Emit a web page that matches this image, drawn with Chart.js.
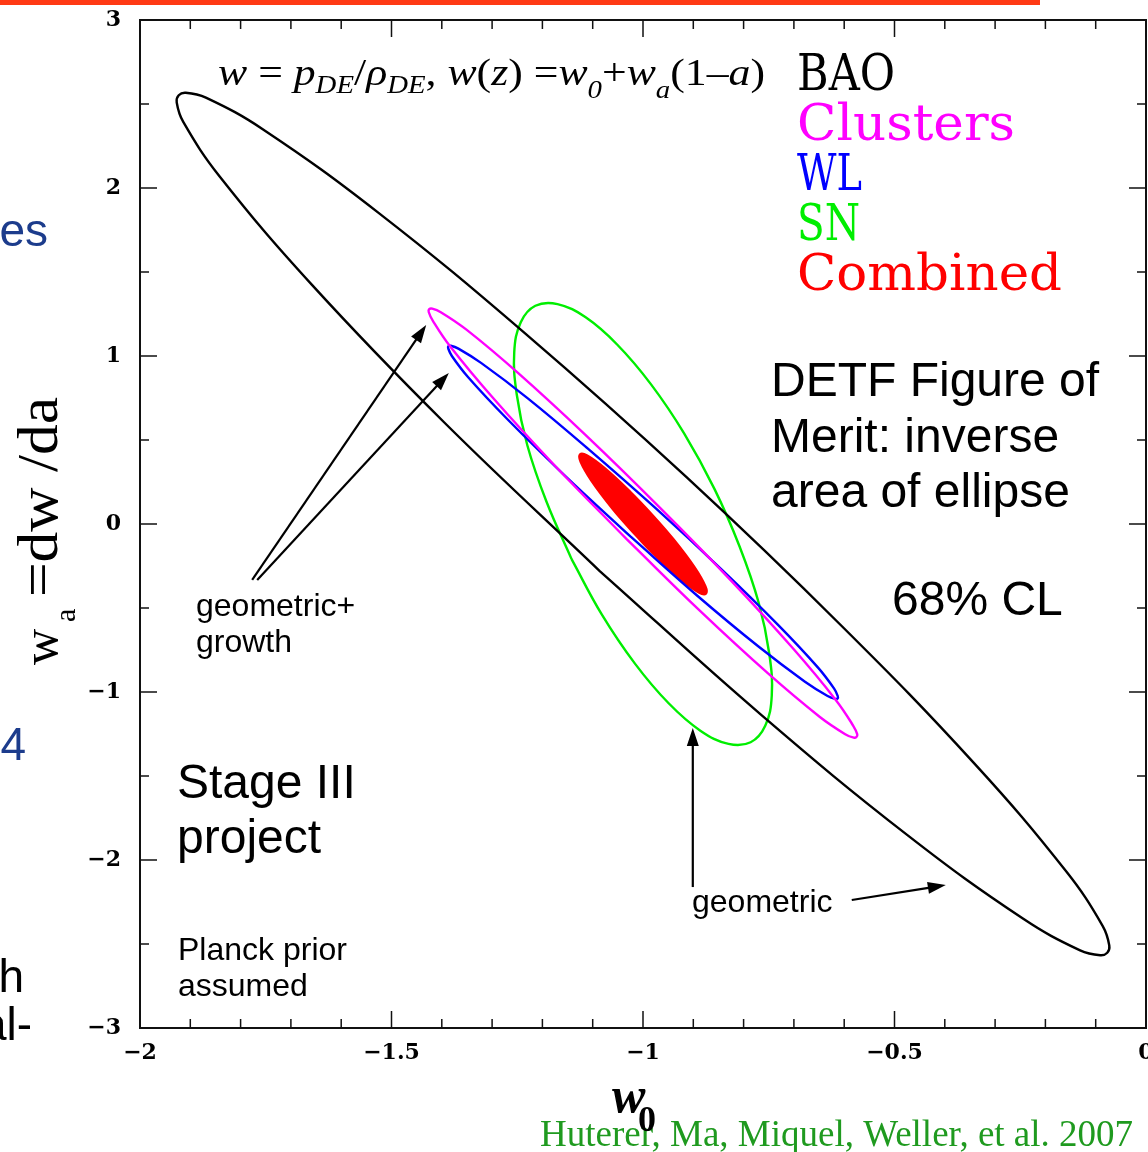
<!DOCTYPE html>
<html>
<head>
<meta charset="utf-8">
<title>DETF figure of merit, w0-wa plane</title>
<script src="https://cdn.jsdelivr.net/npm/chart.js@4.4.1/dist/chart.umd.min.js"></script>
<style>
  html, body { margin: 0; padding: 0; background: #fff; overflow: hidden; }
  canvas { display: block; }
</style>
</head>
<body>
<canvas id="fomChart" width="1148" height="1152"></canvas>
<script>
// axis ticks
const w0Ticks = [-2, -1.5, -1, -0.5, 0];
const waTicks = [-3, -2, -1, 0, 1, 2, 3];

// 68% CL contours in the (w0, wa) plane, traced around each ellipse
const baoW0 = [-1.086, -0.765, -0.473, -0.244, -0.131, -0.091, -0.077, -0.073, -0.086, -0.158, -0.341, -0.604, -0.914,
  -1.235, -1.527, -1.756, -1.869, -1.909, -1.923, -1.927, -1.914, -1.842, -1.659, -1.397, -1.086];
const baoWa = [-0.280, -1.136, -1.855, -2.350, -2.538, -2.567, -2.552, -2.509, -2.393, -2.070, -1.426, -0.610, 0.280,
  1.136, 1.855, 2.350, 2.538, 2.567, 2.552, 2.509, 2.393, 2.070, 1.426, 0.610, -0.280];

const clusterW0 = [-1.032, -0.885, -0.752, -0.649, -0.598, -0.581, -0.576, -0.574, -0.582, -0.616, -0.702, -0.824, -0.968,
  -1.115, -1.248, -1.351, -1.402, -1.419, -1.425, -1.426, -1.418, -1.384, -1.298, -1.176, -1.032];
const clusterWa = [-0.092, -0.522, -0.888, -1.147, -1.251, -1.272, -1.269, -1.252, -1.201, -1.050, -0.740, -0.340, 0.102,
  0.532, 0.898, 1.157, 1.261, 1.282, 1.279, 1.262, 1.211, 1.060, 0.750, 0.350, -0.092];

const wlW0 = [-1.025, -0.892, -0.771, -0.678, -0.633, -0.618, -0.613, -0.613, -0.620, -0.652, -0.732, -0.844, -0.975,
  -1.109, -1.229, -1.322, -1.367, -1.382, -1.387, -1.387, -1.380, -1.348, -1.268, -1.156, -1.025];
const wlWa = [-0.074, -0.427, -0.728, -0.939, -1.024, -1.041, -1.038, -1.023, -0.980, -0.855, -0.599, -0.270, 0.094,
  0.447, 0.748, 0.959, 1.044, 1.061, 1.058, 1.043, 1.000, 0.875, 0.619, 0.290, -0.074];

const snW0 = [-1.142, -1.082, -1.016, -0.949, -0.886, -0.830, -0.786, -0.757, -0.744, -0.749, -0.770, -0.808, -0.858,
  -0.918, -0.984, -1.051, -1.114, -1.170, -1.214, -1.243, -1.256, -1.251, -1.230, -1.192, -1.142];
const snWa = [-0.209, -0.538, -0.831, -1.067, -1.230, -1.309, -1.299, -1.201, -1.021, -0.771, -0.469, -0.134, 0.209,
  0.538, 0.831, 1.067, 1.230, 1.309, 1.299, 1.201, 1.021, 0.771, 0.469, 0.134, -0.209];

const combinedW0 = [-1.019, -0.975, -0.925, -0.889, -0.875, -0.876, -0.898, -0.939, -0.981,
  -1.025, -1.075, -1.111, -1.125, -1.124, -1.102, -1.061, -1.019];
const combinedWa = [-0.052, -0.190, -0.329, -0.407, -0.414, -0.371, -0.256, -0.093, 0.052,
  0.190, 0.329, 0.407, 0.414, 0.371, 0.256, 0.093, -0.052];

const probeLabels = ['BAO', 'Clusters', 'WL', 'SN', 'Combined'];
const probeColors = ['#000000', '#ff00ff', '#0000ff', '#00ee00', '#ff0000'];
const probeW0 = [baoW0, clusterW0, wlW0, snW0, combinedW0];
const probeWa = [baoWa, clusterWa, wlWa, snWa, combinedWa];

const SERIF = '"Liberation Serif", "Times New Roman", serif';
const SANS = '"Liberation Sans", Arial, sans-serif';

const datasets = probeLabels.map((label, i) => ({
  label,
  data: probeW0[i].map((x, k) => ({ x, y: probeWa[i][k] })),
  showLine: true,
  borderColor: probeColors[i],
  backgroundColor: probeColors[i],
  borderWidth: 2.4,
  pointRadius: 0,
  pointHoverRadius: 0,
  tension: 0.4,
  fill: label === 'Combined' ? 'shape' : false,
}));

// annotation arrows, in data units: [fromW0, fromWa, toW0, toWa]
const arrows = [
  [-1.777, -0.333, -1.431, 1.185],
  [-1.767, -0.333, -1.386, 0.899],
  [-0.901, -2.161, -0.901, -1.214],
  [-0.585, -2.238, -0.398, -2.149],
];

function drawArrow(ctx, x1, y1, x2, y2) {
  const a = Math.atan2(y2 - y1, x2 - x1);
  const len = 18, half = 6;
  ctx.beginPath();
  ctx.moveTo(x1, y1);
  ctx.lineTo(x2 - (len - 2) * Math.cos(a), y2 - (len - 2) * Math.sin(a));
  ctx.stroke();
  ctx.beginPath();
  ctx.moveTo(x2, y2);
  ctx.lineTo(x2 - len * Math.cos(a) + half * Math.sin(a), y2 - len * Math.sin(a) - half * Math.cos(a));
  ctx.lineTo(x2 - len * Math.cos(a) - half * Math.sin(a), y2 - len * Math.sin(a) + half * Math.cos(a));
  ctx.closePath();
  ctx.fill();
}

// draw a row of mixed-font pieces, optionally squeezed to a given width
function drawRuns(ctx, runs, x, y, width) {
  let total = 0;
  runs.forEach(r => { ctx.font = r.font; r.w = ctx.measureText(r.text).width; total += r.w; });
  const sx = width ? width / total : 1;
  ctx.save();
  ctx.translate(x, y);
  ctx.scale(sx, 1);
  let cx = 0;
  runs.forEach(r => { ctx.font = r.font; ctx.fillText(r.text, cx, r.dy || 0); cx += r.w; });
  ctx.restore();
}

function fitText(ctx, text, font, x, y, width) {
  drawRuns(ctx, [{ text, font }], x, y, width);
}

const pagePlugin = {
  id: 'page',
  beforeDraw(chart) {
    const ctx = chart.ctx;
    ctx.save();
    ctx.fillStyle = '#fff';
    ctx.fillRect(0, 0, chart.width, chart.height);
    // slide header bar and clipped slide text on the left
    ctx.fillStyle = '#ff3a14';
    ctx.fillRect(0, 0, 1040, 5);
    ctx.textAlign = 'right';
    ctx.textBaseline = 'alphabetic';
    ctx.font = '46px ' + SANS;
    ctx.fillStyle = '#1c3c8c';
    ctx.fillText('es', 48, 246);
    ctx.fillText('4', 26, 760);
    ctx.fillStyle = '#000';
    ctx.fillText('h', 24, 992);
    ctx.fillText('al-', 32, 1040);
    ctx.restore();
  },
};

const framePlugin = {
  id: 'frame',
  afterDatasetsDraw(chart) {
    const { ctx, chartArea: a, scales: { x, y } } = chart;
    ctx.save();
    ctx.strokeStyle = '#111';
    ctx.lineWidth = 2;
    ctx.strokeRect(a.left, a.top, a.right - a.left, a.bottom - a.top);
    ctx.lineWidth = 1.5;
    ctx.beginPath();
    for (let i = 0; i <= 20; i++) {
      const px = x.getPixelForValue(-2 + i * 0.1);
      const len = i % 5 === 0 ? 17 : 9;
      ctx.moveTo(px, a.bottom); ctx.lineTo(px, a.bottom - len);
      ctx.moveTo(px, a.top); ctx.lineTo(px, a.top + len);
    }
    for (let i = 0; i <= 12; i++) {
      const py = y.getPixelForValue(-3 + i * 0.5);
      const len = i % 2 === 0 ? 17 : 9;
      ctx.moveTo(a.left, py); ctx.lineTo(a.left + len, py);
      ctx.moveTo(a.right, py); ctx.lineTo(a.right - len, py);
    }
    ctx.stroke();

    // arrows
    ctx.strokeStyle = '#000';
    ctx.fillStyle = '#000';
    ctx.lineWidth = 2.2;
    arrows.forEach(([x1, y1, x2, y2]) => {
      drawArrow(ctx, x.getPixelForValue(x1), y.getPixelForValue(y1), x.getPixelForValue(x2), y.getPixelForValue(y2));
    });
    ctx.restore();
  },
  afterDraw(chart) {
    const ctx = chart.ctx;
    ctx.save();
    ctx.textAlign = 'left';
    ctx.textBaseline = 'alphabetic';
    ctx.fillStyle = '#000';

    // parametrisation
    const it = 'italic 38px ' + SERIF, up = '38px ' + SERIF, sub = 'italic 25px ' + SERIF;
    drawRuns(ctx, [
      { text: 'w', font: it }, { text: ' = ', font: up }, { text: 'p', font: it },
      { text: 'DE', font: sub, dy: 8 }, { text: '/', font: up }, { text: 'ρ', font: it },
      { text: 'DE', font: sub, dy: 8 }, { text: ', ', font: up }, { text: 'w', font: it },
      { text: '(', font: up }, { text: 'z', font: it }, { text: ') =', font: up },
      { text: 'w', font: it }, { text: '0', font: sub, dy: 13 }, { text: '+', font: up },
      { text: 'w', font: it }, { text: 'a', font: sub, dy: 13 }, { text: '(1–', font: up },
      { text: 'a', font: it }, { text: ')', font: up },
    ], 218, 85, 547);

    // probe key
    const keyWidths = [98, 218, 65, 63, 265];
    probeLabels.forEach((label, i) => {
      ctx.fillStyle = probeColors[i];
      fitText(ctx, label, '51px "DejaVu Serif", serif', 797, 90 + i * 50, keyWidths[i]);
    });

    // notes
    ctx.fillStyle = '#000';
    ctx.font = '48px ' + SANS;
    ctx.fillText('DETF Figure of', 771, 396);
    ctx.fillText('Merit: inverse', 771, 452);
    ctx.fillText('area of ellipse', 771, 507);
    ctx.fillText('68% CL', 892, 615);
    ctx.fillText('Stage III', 177, 798);
    ctx.fillText('project', 177, 853);
    ctx.font = '32px ' + SANS;
    ctx.fillText('geometric+', 196, 616);
    ctx.fillText('growth', 196, 652);
    ctx.fillText('Planck prior', 178, 960);
    ctx.fillText('assumed', 178, 996);
    ctx.fillText('geometric', 692, 912);

    // axis titles
    ctx.save();
    ctx.translate(57, 665);
    ctx.rotate(-Math.PI / 2);
    ctx.font = '50px ' + SERIF;
    ctx.fillText('w', 0, 0);
    ctx.font = '30px ' + SERIF;
    ctx.fillText('a', 43, 18);
    fitText(ctx, '=dw /da', '58px ' + SERIF, 68, 0, 200);
    ctx.restore();

    ctx.fillStyle = '#1f9a1f';
    ctx.font = '37px ' + SERIF;
    ctx.fillText('Huterer, Ma, Miquel, Weller, et al. 2007', 540, 1146);

    ctx.fillStyle = '#000';
    ctx.font = 'italic bold 50px ' + SERIF;
    ctx.fillText('w', 612, 1112);
    ctx.font = 'bold 36px ' + SERIF;
    ctx.fillText('0', 638, 1131);
    ctx.restore();
  },
};

const minus = v => (v < 0 ? '−' + Math.abs(v) : String(v));
const tickFont = { family: 'DejaVu Serif', size: 22, weight: 'bold' };

new Chart(document.getElementById('fomChart'), {
  type: 'scatter',
  data: { datasets },
  options: {
    responsive: false,
    animation: false,
    devicePixelRatio: 1,
    layout: { padding: { top: 20, right: 2, left: 0, bottom: 0 } },
    plugins: { legend: { display: false }, tooltip: { enabled: false } },
    scales: {
      x: {
        type: 'linear',
        min: -2,
        max: 0,
        afterBuildTicks: s => { s.ticks = w0Ticks.map(value => ({ value })); },
        afterFit: s => { s.height = 124; s.paddingLeft = 0; s.paddingRight = 0; },
        grid: { display: false, drawTicks: false },
        border: { display: false },
        ticks: { padding: 12, color: '#000', font: tickFont, callback: minus, maxRotation: 0 },
      },
      y: {
        type: 'linear',
        min: -3,
        max: 3,
        afterBuildTicks: s => { s.ticks = waTicks.map(value => ({ value })); },
        afterFit: s => { s.width = 140; s.paddingTop = 0; s.paddingBottom = 0; },
        grid: { display: false, drawTicks: false },
        border: { display: false },
        ticks: { padding: 19, color: '#000', font: tickFont, callback: minus },
      },
    },
  },
  plugins: [pagePlugin, framePlugin],
});
</script>
</body>
</html>
